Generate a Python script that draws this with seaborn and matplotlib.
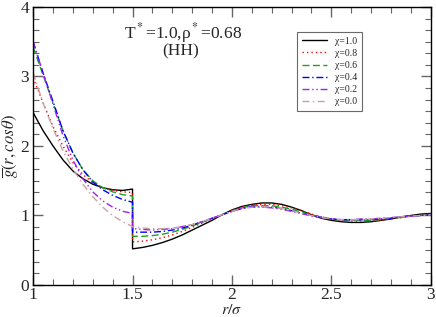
import matplotlib
matplotlib.use("Agg")
import matplotlib.pyplot as plt
from matplotlib.ticker import MultipleLocator, AutoMinorLocator
import pandas as pd
import seaborn as sns

# r grid: inside the well (1.0 - 1.5) and outside (1.5 - 3.0); g jumps at r = 1.5
r_inner = [1.00, 1.05, 1.10, 1.15, 1.20, 1.25, 1.30, 1.35, 1.40, 1.45, 1.50]
r_outer = [1.50, 1.55, 1.60, 1.65, 1.70, 1.75, 1.80, 1.85, 1.90, 1.95, 2.00,
           2.05, 2.10, 2.15, 2.20, 2.25, 2.30, 2.35, 2.40, 2.45, 2.50,
           2.55, 2.60, 2.65, 2.70, 2.75, 2.80, 2.85, 2.90, 2.95, 3.00]

chi_labels = ["χ=1.0", "χ=0.8", "χ=0.6", "χ=0.4", "χ=0.2", "χ=0.0"]

g10_in = [2.48, 2.22, 2.00, 1.80, 1.64, 1.53, 1.45, 1.40, 1.37, 1.36, 1.38]
g10_out = [0.52, 0.54, 0.57, 0.61, 0.66, 0.72, 0.79, 0.86, 0.93, 1.01, 1.08,
           1.13, 1.16, 1.18, 1.18, 1.16, 1.12, 1.07, 1.01, 0.96, 0.93,
           0.91, 0.90, 0.90, 0.91, 0.93, 0.95, 0.98, 1.00, 1.02, 1.03]

g08_in = [2.98, 2.62, 2.28, 2.00, 1.76, 1.59, 1.47, 1.40, 1.36, 1.34, 1.33]
g08_out = [0.62, 0.63, 0.65, 0.68, 0.72, 0.77, 0.83, 0.89, 0.95, 1.01, 1.07,
           1.12, 1.15, 1.16, 1.16, 1.14, 1.11, 1.07, 1.02, 0.98, 0.95,
           0.93, 0.92, 0.92, 0.92, 0.93, 0.95, 0.97, 0.99, 1.00, 1.02]

g06_in = [3.42, 3.02, 2.62, 2.22, 1.90, 1.66, 1.50, 1.40, 1.34, 1.30, 1.28]
g06_out = [0.70, 0.70, 0.71, 0.73, 0.76, 0.80, 0.85, 0.90, 0.96, 1.01, 1.07,
           1.11, 1.14, 1.14, 1.14, 1.12, 1.09, 1.05, 1.01, 0.98, 0.95,
           0.93, 0.93, 0.93, 0.93, 0.94, 0.96, 0.97, 0.99, 1.00, 1.02]

g04_in = [3.50, 3.05, 2.64, 2.22, 1.90, 1.66, 1.48, 1.37, 1.29, 1.23, 1.19]
g04_out = [0.76, 0.76, 0.76, 0.77, 0.79, 0.82, 0.86, 0.91, 0.96, 1.01, 1.06,
           1.10, 1.13, 1.13, 1.12, 1.10, 1.07, 1.03, 1.00, 0.97, 0.95,
           0.94, 0.94, 0.94, 0.94, 0.95, 0.96, 0.98, 0.99, 1.00, 1.01]

g02_in = [3.50, 3.05, 2.60, 2.15, 1.80, 1.53, 1.34, 1.21, 1.12, 1.06, 1.03]
g02_out = [0.81, 0.80, 0.79, 0.80, 0.81, 0.84, 0.87, 0.91, 0.96, 1.01, 1.06,
           1.10, 1.12, 1.12, 1.11, 1.09, 1.06, 1.03, 0.99, 0.97, 0.95,
           0.94, 0.94, 0.95, 0.95, 0.96, 0.97, 0.98, 0.99, 1.00, 1.01]

g00_in = [3.05, 2.62, 2.25, 1.93, 1.67, 1.45, 1.27, 1.12, 1.00, 0.91, 0.84]
g00_out = [0.84, 0.82, 0.81, 0.81, 0.82, 0.84, 0.87, 0.91, 0.96, 1.01, 1.06,
           1.10, 1.12, 1.13, 1.12, 1.10, 1.07, 1.03, 1.00, 0.97, 0.95,
           0.94, 0.94, 0.94, 0.95, 0.96, 0.97, 0.98, 0.99, 1.00, 1.01]

series = [(g10_in, g10_out), (g08_in, g08_out), (g06_in, g06_out),
          (g04_in, g04_out), (g02_in, g02_out), (g00_in, g00_out)]

rows = []
for lab, (gin, gout) in zip(chi_labels, series):
    for r, g in zip(r_inner + r_outer, gin + gout):
        rows.append({"r": r, "g": g, "chi": lab})
df = pd.DataFrame(rows)

palette = {"χ=1.0": "black", "χ=0.8": "red", "χ=0.6": "#1fa01f",
           "χ=0.4": "blue", "χ=0.2": "#a020f0", "χ=0.0": "#c9a3a3"}
dashes = {"χ=1.0": "", "χ=0.8": (1, 2.2), "χ=0.6": (5, 2.5),
          "χ=0.4": (5, 2, 1, 2), "χ=0.2": (5, 2, 1, 2, 1, 2),
          "χ=0.0": (5, 2.5, 1, 2.5)}

sns.set_theme(style="ticks")
plt.rcParams["font.family"] = ["Liberation Serif", "DejaVu Serif"]
plt.rcParams["mathtext.fontset"] = "stix"

fig = plt.figure(figsize=(4.36, 3.17), dpi=100)
ax = fig.add_axes([0.076, 0.101, 0.912, 0.877])

sns.lineplot(data=df, x="r", y="g", hue="chi", style="chi",
             palette=palette, dashes=dashes, estimator=None, sort=False,
             linewidth=1.0, ax=ax)

ax.set_xlim(1, 3)
ax.set_ylim(0, 4)
ax.xaxis.set_major_locator(MultipleLocator(0.5))
ax.xaxis.set_minor_locator(AutoMinorLocator(5))
ax.yaxis.set_major_locator(MultipleLocator(1))
ax.yaxis.set_minor_locator(AutoMinorLocator(6))
ax.set_xticks([1, 1.5, 2, 2.5, 3])
ax.set_xticklabels(["1", "1.5", "2", "2.5", "3"])
ax.tick_params(which="both", direction="in", top=True, right=True,
               labelsize=12.5, pad=3, color="#666666")
ax.tick_params(axis="x", which="both", pad=1.5)
ax.tick_params(which="major", length=7, width=1)
ax.tick_params(which="minor", length=4, width=0.8)
for s in ax.spines.values():
    s.set_linewidth(1.0)
    s.set_color("black")

ax.set_xlabel(r"$r/\sigma$", fontsize=11.5, labelpad=-1)
ax.set_ylabel(r"$\overline{g}(r,cos\theta)$", fontsize=12, labelpad=0)

ax.text(1.755, 3.63, r"T$^*$=1.0,ρ$^*$=0.68", ha="center", va="center", fontsize=12.5)
ax.text(1.74, 3.36, "(HH)", ha="center", va="center", fontsize=12.5)

leg = ax.legend(title=None, loc="upper left", bbox_to_anchor=(0.651, 0.928),
                fontsize=7, frameon=True, fancybox=False, edgecolor="#444444",
                handlelength=2.6, handletextpad=0.8, labelspacing=0.32,
                borderpad=0.5)
leg.get_frame().set_linewidth(0.8)

fig.savefig("out.png", dpi=100)
